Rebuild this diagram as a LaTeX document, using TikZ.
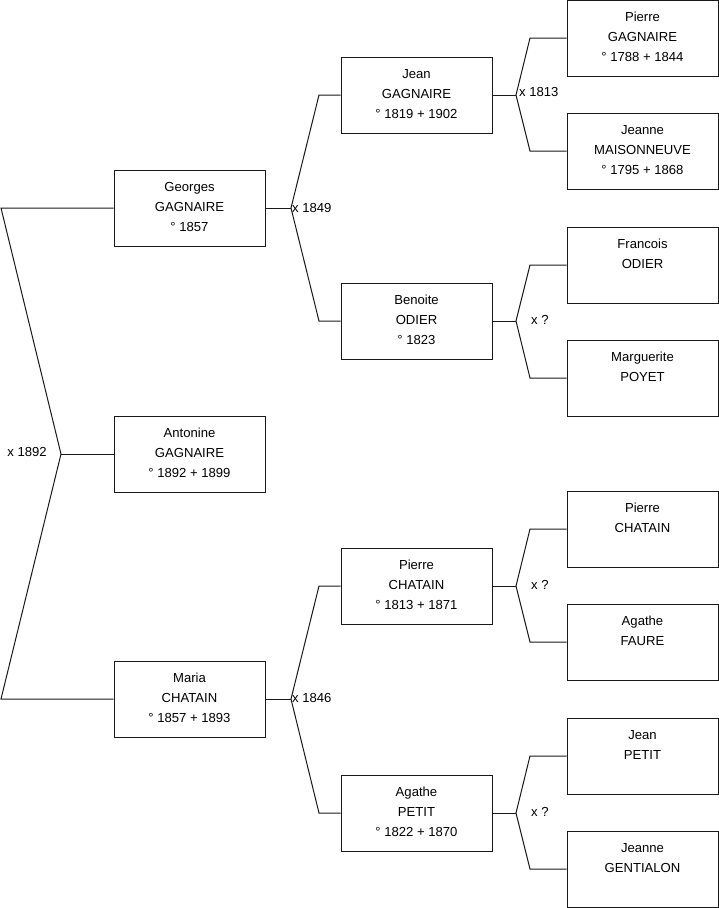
\documentclass[tikz,border=0pt]{standalone}
\usepackage{fontspec}
\setmainfont{Liberation Sans}
\newcommand\personbox[4]{%
  \node[pbox] (#1) at (#2,#3) {};
  \node[ptext] (#1t) at (#2,{#3-30.5}) {\strut #4};}
\begin{document}
\begin{tikzpicture}[x=1pt,y=-1pt,
  pbox/.style={draw=black!90,line width=1pt,minimum width=151pt,minimum height=76pt,inner sep=0pt},
  ptext/.style={anchor=north,align=center,inner sep=0pt,font=\fontsize{13.1}{20}\selectfont},
  lbl/.style={inner sep=0pt,font=\fontsize{13.1}{15}\selectfont},
  conn/.style={draw=black!90,line width=1pt}]
\useasboundingbox (0,0) rectangle (719,908);
% column 1
\personbox{georges}{189.5}{208}{Georges\\GAGNAIRE\\° 1857}
\personbox{antonine}{189.5}{454}{Antonine\\GAGNAIRE\\° 1892 + 1899}
\personbox{maria}{189.5}{699}{Maria\\CHATAIN\\° 1857 + 1893}
% column 2
\personbox{jean}{416.5}{95}{Jean\\GAGNAIRE\\° 1819 + 1902}
\personbox{benoite}{416.5}{321}{Benoite\\ODIER\\° 1823}
\personbox{pierrec}{416.5}{586}{Pierre\\CHATAIN\\° 1813 + 1871}
\personbox{agathep}{416.5}{813}{Agathe\\PETIT\\° 1822 + 1870}
% column 3
\personbox{pierreg}{642.5}{38}{Pierre\\GAGNAIRE\\° 1788 + 1844}
\personbox{jeannem}{642.5}{151}{Jeanne\\MAISONNEUVE\\° 1795 + 1868}
\personbox{francois}{642.5}{265}{Francois\\ODIER}
\personbox{marguerite}{642.5}{378}{Marguerite\\POYET}
\personbox{pierrecc}{642.5}{529}{Pierre\\CHATAIN}
\personbox{agathef}{642.5}{642}{Agathe\\FAURE}
\personbox{jeanp}{642.5}{756}{Jean\\PETIT}
\personbox{jeanneg}{642.5}{869}{Jeanne\\GENTIALON}
% root connector
\coordinate (r0) at (1,208);
\coordinate (rv) at (61,454);
\coordinate (r2) at (1,699);
\draw[conn] (georges.west) -- (r0) -- (rv) -- (r2) -- (maria.west);
\draw[conn] (rv) -- (antonine.west);
\node[lbl,anchor=east] (l1892) at (47,452) {x 1892};
% georges parents
\coordinate (gv) at (291,208);
\coordinate (ga) at (319,95);
\coordinate (gb) at (319,321);
\draw[conn] (georges.east) -- (gv);
\draw[conn] (jean.west) -- (ga) -- (gv) -- (gb) -- (benoite.west);
\node[lbl,anchor=west] (l1849) at (292,208) {x 1849};
% maria parents
\coordinate (mv) at (291,699);
\coordinate (ma) at (319,586);
\coordinate (mb) at (319,813);
\draw[conn] (maria.east) -- (mv);
\draw[conn] (pierrec.west) -- (ma) -- (mv) -- (mb) -- (agathep.west);
\node[lbl,anchor=west] (l1846) at (292,698) {x 1846};
% jean parents
\coordinate (jv) at (516,95);
\coordinate (ja) at (530,38);
\coordinate (jb) at (530,151);
\draw[conn] (jean.east) -- (jv);
\draw[conn] (pierreg.west) -- (ja) -- (jv) -- (jb) -- (jeannem.west);
\node[lbl,anchor=west] (l1813) at (519,92) {x 1813};
% benoite parents
\coordinate (bv) at (516,321);
\coordinate (ba) at (530,265);
\coordinate (bb) at (530,378);
\draw[conn] (benoite.east) -- (bv);
\draw[conn] (francois.west) -- (ba) -- (bv) -- (bb) -- (marguerite.west);
\node[lbl,anchor=west] (lb) at (531,320) {x ?};
% pierre chatain parents
\coordinate (pv) at (516,586);
\coordinate (pa) at (530,529);
\coordinate (pb) at (530,642);
\draw[conn] (pierrec.east) -- (pv);
\draw[conn] (pierrecc.west) -- (pa) -- (pv) -- (pb) -- (agathef.west);
\node[lbl,anchor=west] (lp) at (531,585) {x ?};
% agathe petit parents
\coordinate (av) at (516,813);
\coordinate (aa) at (530,756);
\coordinate (ab) at (530,869);
\draw[conn] (agathep.east) -- (av);
\draw[conn] (jeanp.west) -- (aa) -- (av) -- (ab) -- (jeanneg.west);
\node[lbl,anchor=west] (la) at (531,812) {x ?};
\end{tikzpicture}
\end{document}
